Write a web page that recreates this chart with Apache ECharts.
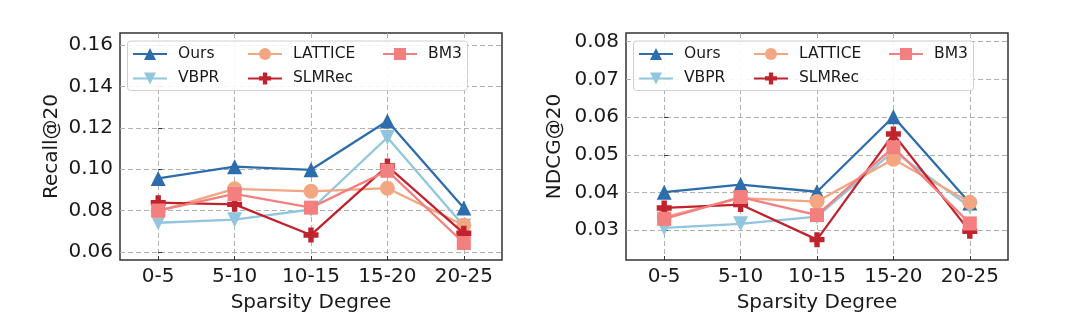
<!DOCTYPE html>
<html>
<head>
<meta charset="utf-8">
<script src="https://cdn.jsdelivr.net/npm/echarts@6/dist/echarts.min.js"></script>
<style>
html,body{margin:0;padding:0;background:#fff;}
#c{width:1080px;height:333px;}
</style>
</head>
<body>
<div id="c"></div>
<script>
const categories = ['0-5', '5-10', '10-15', '15-20', '20-25'];
const seriesNames = ['Ours', 'VBPR', 'LATTICE', 'SLMRec', 'BM3'];

const recallOurs    = [0.0955, 0.1012, 0.0997, 0.1233, 0.0812];
const recallVBPR    = [0.0741, 0.0756, 0.0805, 0.1153, 0.0725];
const recallLATTICE = [0.0797, 0.0905, 0.0893, 0.0908, 0.0729];
const recallSLMRec  = [0.0838, 0.0830, 0.0682, 0.1015, 0.0690];
const recallBM3     = [0.0800, 0.0880, 0.0814, 0.0992, 0.0643];

const ndcgOurs    = [0.0401, 0.0421, 0.0402, 0.0601, 0.0372];
const ndcgVBPR    = [0.0306, 0.0317, 0.0336, 0.0510, 0.0362];
const ndcgLATTICE = [0.0335, 0.0385, 0.0376, 0.0488, 0.0374];
const ndcgSLMRec  = [0.0359, 0.0368, 0.0275, 0.0555, 0.0297];
const ndcgBM3     = [0.0330, 0.0388, 0.0340, 0.0520, 0.0318];

const recallTicks = [0.06, 0.08, 0.10, 0.12, 0.14, 0.16];
const ndcgTicks   = [0.03, 0.04, 0.05, 0.06, 0.07, 0.08];

const FONT = 'DejaVu Sans';
const TXT = '#1a1a1a';
const colors = {
  Ours: '#2e6dab', VBPR: '#92c5de', LATTICE: '#f4a582', SLMRec: '#c0232e', BM3: '#f47f7f'
};
const symbols = {
  Ours: {symbol: 'triangle', rotate: 0, size: 15},
  VBPR: {symbol: 'triangle', rotate: 180, size: 15},
  LATTICE: {symbol: 'circle', rotate: 0, size: 15},
  SLMRec: {symbol: 'path://M3.2,0H6.8V3.2H10V6.8H6.8V10H3.2V6.8H0V3.2H3.2Z', rotate: 0, size: 15},
  BM3: {symbol: 'rect', rotate: 0, size: 14}
};

const recallData = {Ours: recallOurs, VBPR: recallVBPR, LATTICE: recallLATTICE, SLMRec: recallSLMRec, BM3: recallBM3};
const ndcgData = {Ours: ndcgOurs, VBPR: ndcgVBPR, LATTICE: ndcgLATTICE, SLMRec: ndcgSLMRec, BM3: ndcgBM3};

const grids = [
  {left: 120, top: 33, width: 382, height: 227},
  {left: 626, top: 33, width: 382, height: 227}
];

function xAxisFor(gi) {
  return {
    type: 'value', gridIndex: gi, min: -0.5, max: 4.5,
    name: 'Sparsity Degree', nameLocation: 'middle', nameGap: 33,
    nameTextStyle: {fontFamily: FONT, fontSize: 20, color: TXT},
    axisLine: {show: false},
    axisTick: {show: true, inside: true, length: 4, customValues: [0, 1, 2, 3, 4], lineStyle: {color: '#333'}},
    axisLabel: {customValues: [0, 1, 2, 3, 4], formatter: v => categories[Math.round(v)] || '',
      fontFamily: FONT, fontSize: 20, color: TXT, margin: 7},
    splitLine: {show: true, lineStyle: {color: '#b0b0b0', type: [5, 3], width: 1}}
  };
}
function yAxisFor(gi, min, max, ticks, name, gap) {
  return {
    type: 'value', gridIndex: gi, min: min, max: max,
    name: name, nameLocation: 'middle', nameGap: gap, nameRotate: 90,
    nameTextStyle: {fontFamily: FONT, fontSize: 20, color: TXT},
    axisLine: {show: false},
    axisTick: {show: true, inside: true, length: 4, customValues: ticks, lineStyle: {color: '#333'}},
    axisLabel: {customValues: ticks, formatter: v => v.toFixed(2),
      fontFamily: FONT, fontSize: 20, color: TXT, margin: 7},
    splitLine: {show: true, lineStyle: {color: '#b0b0b0', type: [5, 3], width: 1}}
  };
}

const series = [];
[recallData, ndcgData].forEach((d, gi) => {
  seriesNames.forEach((n, k) => {
    series.push({
      name: n, type: 'line', xAxisIndex: gi, yAxisIndex: gi,
      data: d[n].map((v, i) => [i, v]),
      symbol: symbols[n].symbol, symbolRotate: symbols[n].rotate, symbolSize: symbols[n].size,
      showAllSymbol: true,
      lineStyle: {color: colors[n], width: 2.3},
      itemStyle: {color: colors[n]},
      z: 3 + k, animation: false
    });
  });
});

const legendCols = [[ 'Ours', 'VBPR' ], [ 'LATTICE', 'SLMRec' ], [ 'BM3' ]];
const colOffsets = [12, 127, 262];
const legends = [];
const graphics = [];
grids.forEach(g => {
  legendCols.forEach((col, ci) => {
    legends.push({
      data: col, orient: 'vertical', left: g.left + colOffsets[ci], top: 46,
      itemWidth: 34, itemHeight: 15, itemGap: 8.4, padding: 0,
      textStyle: {fontFamily: FONT, fontSize: 15.5, color: TXT, padding: [0, 0, 0, 6]},
      z: 20, selectedMode: false
    });
  });
  graphics.push({
    type: 'rect', left: g.left + 7, top: 40.5,
    shape: {width: 340, height: 49.5, r: 3},
    style: {fill: 'rgba(255,255,255,0.9)', stroke: '#d0d0d0', lineWidth: 1},
    z: 15
  });
});

const chart = echarts.init(document.getElementById('c'), null, {renderer: 'canvas'});
chart.setOption({
  animation: false,
  backgroundColor: '#fff',
  grid: grids.map(g => Object.assign({show: true, borderColor: '#333', borderWidth: 1.5, backgroundColor: 'transparent'}, g)),
  xAxis: [xAxisFor(0), xAxisFor(1)],
  yAxis: [
    yAxisFor(0, 0.0561, 0.1658, recallTicks, 'Recall@20', 58),
    yAxisFor(1, 0.0221, 0.0823, ndcgTicks, 'NDCG@20', 61)
  ],
  legend: legends,
  graphic: graphics,
  series: series
});
</script>
</body>
</html>
